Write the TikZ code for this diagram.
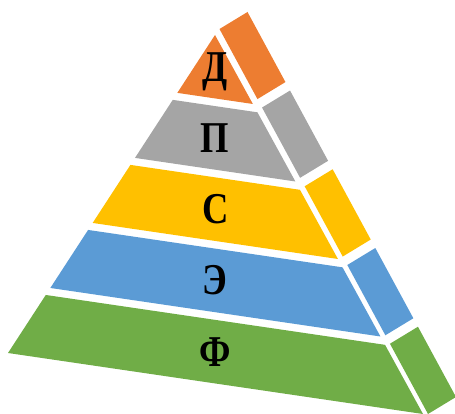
\documentclass[tikz,border=0pt]{standalone}
\usepackage{fontspec}
\setmainfont{Liberation Serif}[BoldFont={Liberation Serif Bold}]
\usetikzlibrary{calc}
\definecolor{layerF}{HTML}{70AD47}
\definecolor{layerE}{HTML}{5B9BD5}
\definecolor{layerS}{HTML}{FFC000}
\definecolor{layerP}{HTML}{A5A5A5}
\definecolor{layerD}{HTML}{ED7D31}
\newcommand{\narrow}[1]{\scalebox{0.83}[1]{#1}}

\begin{document}
\begin{tikzpicture}[x=1pt, y=-1pt,
  letter/.style={font=\fontsize{44}{44}\selectfont\bfseries, inner sep=0pt, text=black},
]
\useasboundingbox (0,0) rectangle (455,414);
\clip (0,0) rectangle (455,414);

% ---------------------------------------------------------------- frame
\coordinate (apex) at (215,35);
\coordinate (bl) at (8,353);
\coordinate (br) at (423,414);
\coordinate (bm) at ($(bl)!0.5!(br)$);
\coordinate (s0) at (219.5,29);
\coordinate (s1) at (428,414);
\coordinate (dep) at (28,-17);

% ---------------------------------------------------------------- Ф
\fill[layerF] ($(apex)!0.8175!(bl)$) -- ($(apex)!0.8175!(br)$) -- (br) -- (bl) -- cycle;
\fill[layerF] ($(s0)!0.8175!(s1)$) -- ($(s0)!0.8175!(s1)+(dep)$) -- ($(s1)+(dep)$) -- (s1) -- cycle;
\node[letter] (phi) at ($(apex)!0.909!(bm)$) {\narrow{Ф}};

% ---------------------------------------------------------------- Э
\fill[layerE] ($(apex)!0.613!(bl)$) -- ($(apex)!0.613!(br)$) -- ($(apex)!0.7955!(br)$) -- ($(apex)!0.7955!(bl)$) -- cycle;
\fill[layerE] ($(s0)!0.613!(s1)$) -- ($(s0)!0.613!(s1)+(dep)$) -- ($(s0)!0.7955!(s1)+(dep)$) -- ($(s0)!0.7955!(s1)$) -- cycle;
\node[letter] (eh) at ($(apex)!0.704!(bm)$) {\narrow{Э}};

% ---------------------------------------------------------------- С
\fill[layerS] ($(apex)!0.4085!(bl)$) -- ($(apex)!0.4085!(br)$) -- ($(apex)!0.591!(br)$) -- ($(apex)!0.591!(bl)$) -- cycle;
\fill[layerS] ($(s0)!0.4085!(s1)$) -- ($(s0)!0.4085!(s1)+(dep)$) -- ($(s0)!0.591!(s1)+(dep)$) -- ($(s0)!0.591!(s1)$) -- cycle;
\node[letter] (es) at ($(apex)!0.5!(bm)$) {\narrow{С}};

% ---------------------------------------------------------------- П
\fill[layerP] ($(apex)!0.204!(bl)$) -- ($(apex)!0.204!(br)$) -- ($(apex)!0.3865!(br)$) -- ($(apex)!0.3865!(bl)$) -- cycle;
\fill[layerP] ($(s0)!0.204!(s1)$) -- ($(s0)!0.204!(s1)+(dep)$) -- ($(s0)!0.3865!(s1)+(dep)$) -- ($(s0)!0.3865!(s1)$) -- cycle;
\node[letter] (pe) at ($(apex)!0.295!(bm)$) {\narrow{П}};

% ---------------------------------------------------------------- Д
\fill[layerD] (apex) -- ($(apex)!0.182!(br)$) -- ($(apex)!0.182!(bl)$) -- cycle;
\fill[layerD] (s0) -- ($(s0)+(dep)$) -- ($(s0)!0.182!(s1)+(dep)$) -- ($(s0)!0.182!(s1)$) -- cycle;
\node[letter] (de) at ($(apex)!0.105!(bm)$) {\narrow{Д}};
\end{tikzpicture}
\end{document}
